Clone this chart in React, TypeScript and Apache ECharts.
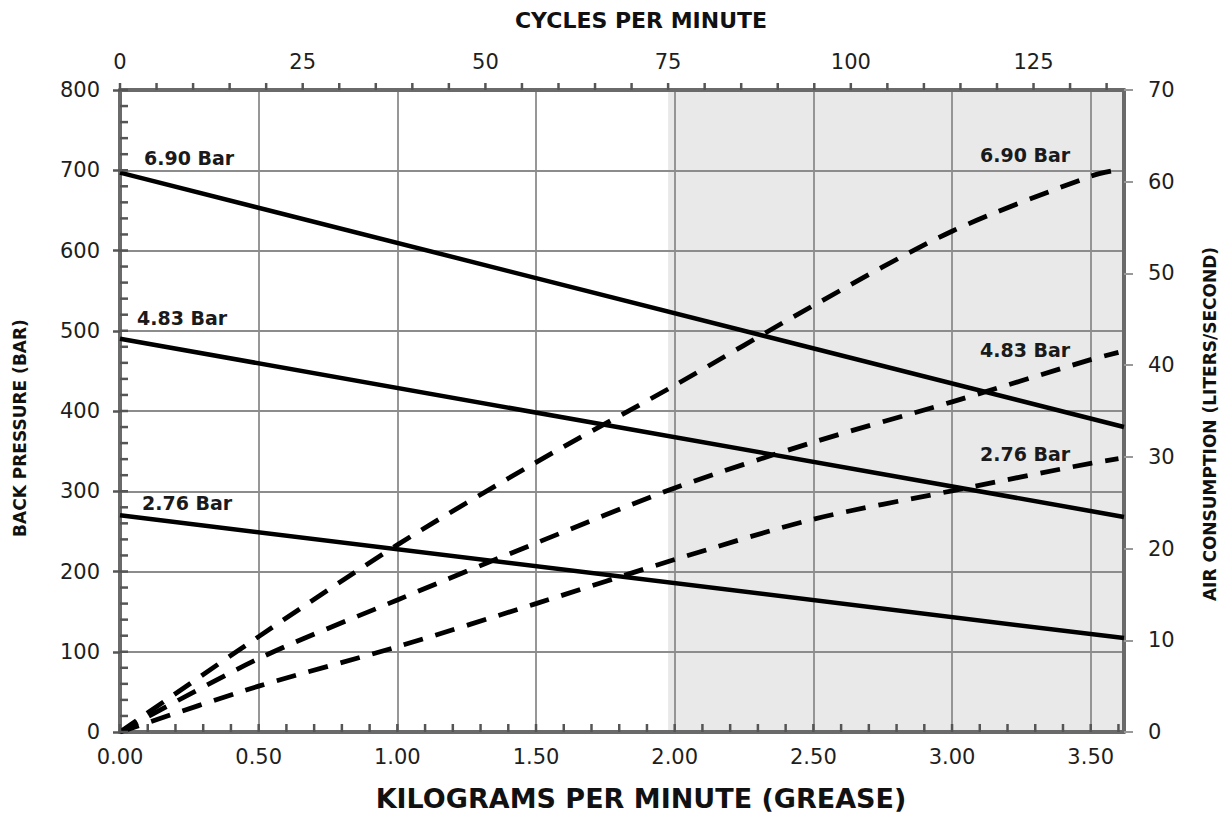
import React, { useEffect, useRef } from "react";
import * as echarts from "echarts";

// ---- data ----
const KG_MAX = 3.62; // right edge of the kilogram axis
const CYCLES_PER_KG = 37.95; // cycles per minute for one kg/min
const SHADE_FROM_CYCLES = 75;

const pressureKg = [0, 3.62];
const pressure690 = [697, 380];
const pressure483 = [490, 268];
const pressure276 = [270, 117];

const airKg = [0, 0.5, 1.0, 1.5, 2.0, 2.5, 3.0, 3.5, 3.6];
const air690 = [0, 10.4, 20.4, 29.4, 37.8, 46.5, 54.6, 60.6, 61.3];
const air483 = [0, 8.0, 14.4, 20.6, 26.6, 31.6, 36.0, 40.6, 41.4];
const air276 = [0, 5.0, 9.3, 14.0, 18.8, 23.2, 26.3, 29.3, 29.8];

const seriesNames = ["6.90 Bar", "4.83 Bar", "2.76 Bar"];

// minor tick positions (axis configuration)
const range = (start: number, stop: number, step: number) => {
  const out: number[] = [];
  for (let i = 0; start + i * step <= stop + 1e-9; i++) out.push(+(start + i * step).toFixed(4));
  return out;
};
const kgMinorTicks = range(0, 3.6, 0.1);
const cycleMinorTicks = range(0, 135, 5);
const pressureMinorTicks = range(0, 800, 20);

const FONT = '"DejaVu Sans", sans-serif';
const AXIS_COLOR = "#6a6a6a";
const GRID_COLOR = "#8c8c8c";
const TEXT_COLOR = "#1e1e1e";
const TICK_COLOR = "#555555";

const pairs = (xs: number[], ys: number[]) => xs.map((x, i) => [x, ys[i]]);

export default function App() {
  const ref = useRef<HTMLDivElement>(null);

  useEffect(() => {
    if (!ref.current) return;
    const chart = echarts.init(ref.current, undefined, { renderer: "svg" });
    const cyclesMax = +(KG_MAX * CYCLES_PER_KG).toFixed(2);

    const labelStyle = {
      fontFamily: FONT,
      fontSize: 21,
      color: TEXT_COLOR,
    };

    const solid = (name: string, ys: number[]) => ({
      name,
      type: "line",
      xAxisIndex: 0,
      yAxisIndex: 0,
      data: pairs(pressureKg, ys),
      showSymbol: false,
      symbol: "none",
      lineStyle: { color: "#000", width: 4.5 },
      z: 3,
    });
    const dashed = (name: string, ys: number[]) => ({
      name: name + " air",
      type: "line",
      xAxisIndex: 0,
      yAxisIndex: 1,
      data: pairs(airKg, ys),
      smooth: 0.3,
      showSymbol: false,
      symbol: "none",
      lineStyle: { color: "#000", width: 4.8, type: [20, 13], cap: "butt" },
      z: 3,
    });

    // minor ticks drawn through the axes' scales; dx/dy give the tick direction
    const tickSeries = (
      name: string,
      xAxisIndex: number,
      data: number[][],
      dx: number,
      dy: number
    ) => ({
      name,
      type: "custom",
      coordinateSystem: "cartesian2d",
      xAxisIndex,
      yAxisIndex: 0,
      clip: false,
      silent: true,
      z: 6,
      data,
      renderItem: (_params: any, api: any) => {
        const p = api.coord([api.value(0), api.value(1)]);
        return {
          type: "rect",
          shape: {
            x: Math.min(p[0], p[0] + dx) - (dx === 0 ? 1.25 : 0),
            y: Math.min(p[1], p[1] + dy) - (dy === 0 ? 1.25 : 0),
            width: dx === 0 ? 2.5 : Math.abs(dx),
            height: dy === 0 ? 2.5 : Math.abs(dy),
          },
          style: { fill: TICK_COLOR },
        };
      },
    });

    const option: any = {
      animation: false,
      backgroundColor: "#fff",
      grid: { left: 120, right: 101, top: 90, bottom: 91, containLabel: false },
      xAxis: [
        {
          type: "value",
          position: "bottom",
          min: 0,
          max: KG_MAX,
          interval: 0.5,
          axisLine: { show: true, onZero: false, lineStyle: { color: AXIS_COLOR, width: 4 } },
          axisTick: { show: false },
          axisLabel: {
            ...labelStyle,
            margin: 14,
            showMaxLabel: false,
            formatter: (v: number) => v.toFixed(2),
          },
          splitLine: { show: true, lineStyle: { color: GRID_COLOR, width: 1.8 } },
        },
        {
          type: "value",
          position: "top",
          min: 0,
          max: cyclesMax,
          interval: 25,
          axisLine: { show: true, onZero: false, lineStyle: { color: AXIS_COLOR, width: 4 } },
          axisTick: { show: false },
          axisLabel: { ...labelStyle, margin: 18, showMaxLabel: false },
          splitLine: { show: false },
        },
      ],
      yAxis: [
        {
          type: "value",
          position: "left",
          min: 0,
          max: 800,
          interval: 100,
          axisLine: { show: true, onZero: false, lineStyle: { color: AXIS_COLOR, width: 4 } },
          axisTick: { show: true, inside: false, length: 7, lineStyle: { color: TICK_COLOR, width: 2.5 } },
          axisLabel: { ...labelStyle, margin: 20 },
          splitLine: { show: true, lineStyle: { color: GRID_COLOR, width: 1.8 } },
        },
        {
          type: "value",
          position: "right",
          min: 0,
          max: 70,
          interval: 10,
          axisLine: { show: true, onZero: false, lineStyle: { color: AXIS_COLOR, width: 4 } },
          axisTick: { show: true, inside: false, length: 9, lineStyle: { color: "#999", width: 2 } },
          axisLabel: { ...labelStyle, margin: 24 },
          splitLine: { show: false },
        },
      ],
      series: [
        {
          name: "shade",
          type: "line",
          xAxisIndex: 1,
          yAxisIndex: 0,
          data: [
            [SHADE_FROM_CYCLES, 0],
            [cyclesMax, 0],
          ],
          showSymbol: false,
          symbol: "none",
          lineStyle: { opacity: 0 },
          silent: true,
          markArea: {
            silent: true,
            z: -1,
            itemStyle: { color: "#e9e9e9" },
            data: [[{ xAxis: SHADE_FROM_CYCLES }, { xAxis: cyclesMax }]],
          },
        },
        solid(seriesNames[0], pressure690),
        solid(seriesNames[1], pressure483),
        solid(seriesNames[2], pressure276),
        dashed(seriesNames[0], air690),
        dashed(seriesNames[1], air483),
        dashed(seriesNames[2], air276),
        tickSeries("kg ticks", 0, kgMinorTicks.map((v) => [v, 0]), 0, -8),
        tickSeries("cycle ticks", 1, cycleMinorTicks.map((v) => [v, 800]), 0, -7),
        tickSeries("pressure ticks", 0, pressureMinorTicks.map((v) => [0, v]), 8, 0),
      ],
      graphic: [
        {
          type: "text",
          x: 641,
          y: 20,
          style: {
            text: "CYCLES PER MINUTE",
            font: `bold 22px ${FONT}`,
            fill: "#111",
            align: "center",
            verticalAlign: "middle",
          },
        },
        {
          type: "text",
          x: 641,
          y: 798,
          style: {
            text: "KILOGRAMS PER MINUTE (GREASE)",
            font: `bold 27px ${FONT}`,
            fill: "#111",
            align: "center",
            verticalAlign: "middle",
          },
        },
        {
          type: "text",
          x: 20,
          y: 428,
          rotation: Math.PI / 2,
          style: {
            text: "BACK PRESSURE (BAR)",
            font: `bold 17px ${FONT}`,
            fill: "#111",
            align: "center",
            verticalAlign: "middle",
          },
        },
        {
          type: "text",
          x: 1210,
          y: 424,
          rotation: Math.PI / 2,
          style: {
            text: "AIR CONSUMPTION (LITERS/SECOND)",
            font: `bold 17px ${FONT}`,
            fill: "#111",
            align: "center",
            verticalAlign: "middle",
          },
        },
        // series labels, left (back pressure) and right (air consumption)
        ...[
          [144, 158, seriesNames[0]],
          [137, 318, seriesNames[1]],
          [142, 503, seriesNames[2]],
          [980, 155, seriesNames[0]],
          [980, 350, seriesNames[1]],
          [980, 454, seriesNames[2]],
        ].map(([x, y, t]) => ({
          type: "text",
          x: x as number,
          y: y as number,
          z: 10,
          style: {
            text: t as string,
            font: `bold 19px ${FONT}`,
            fill: "#1a1a1a",
            align: "left",
            verticalAlign: "middle",
          },
        })),
      ],
    };

    chart.setOption(option);
    return () => chart.dispose();
  }, []);

  return (
    <div
      ref={ref}
      style={{ position: "absolute", left: 0, top: 0, width: 1225, height: 823 }}
    />
  );
}
